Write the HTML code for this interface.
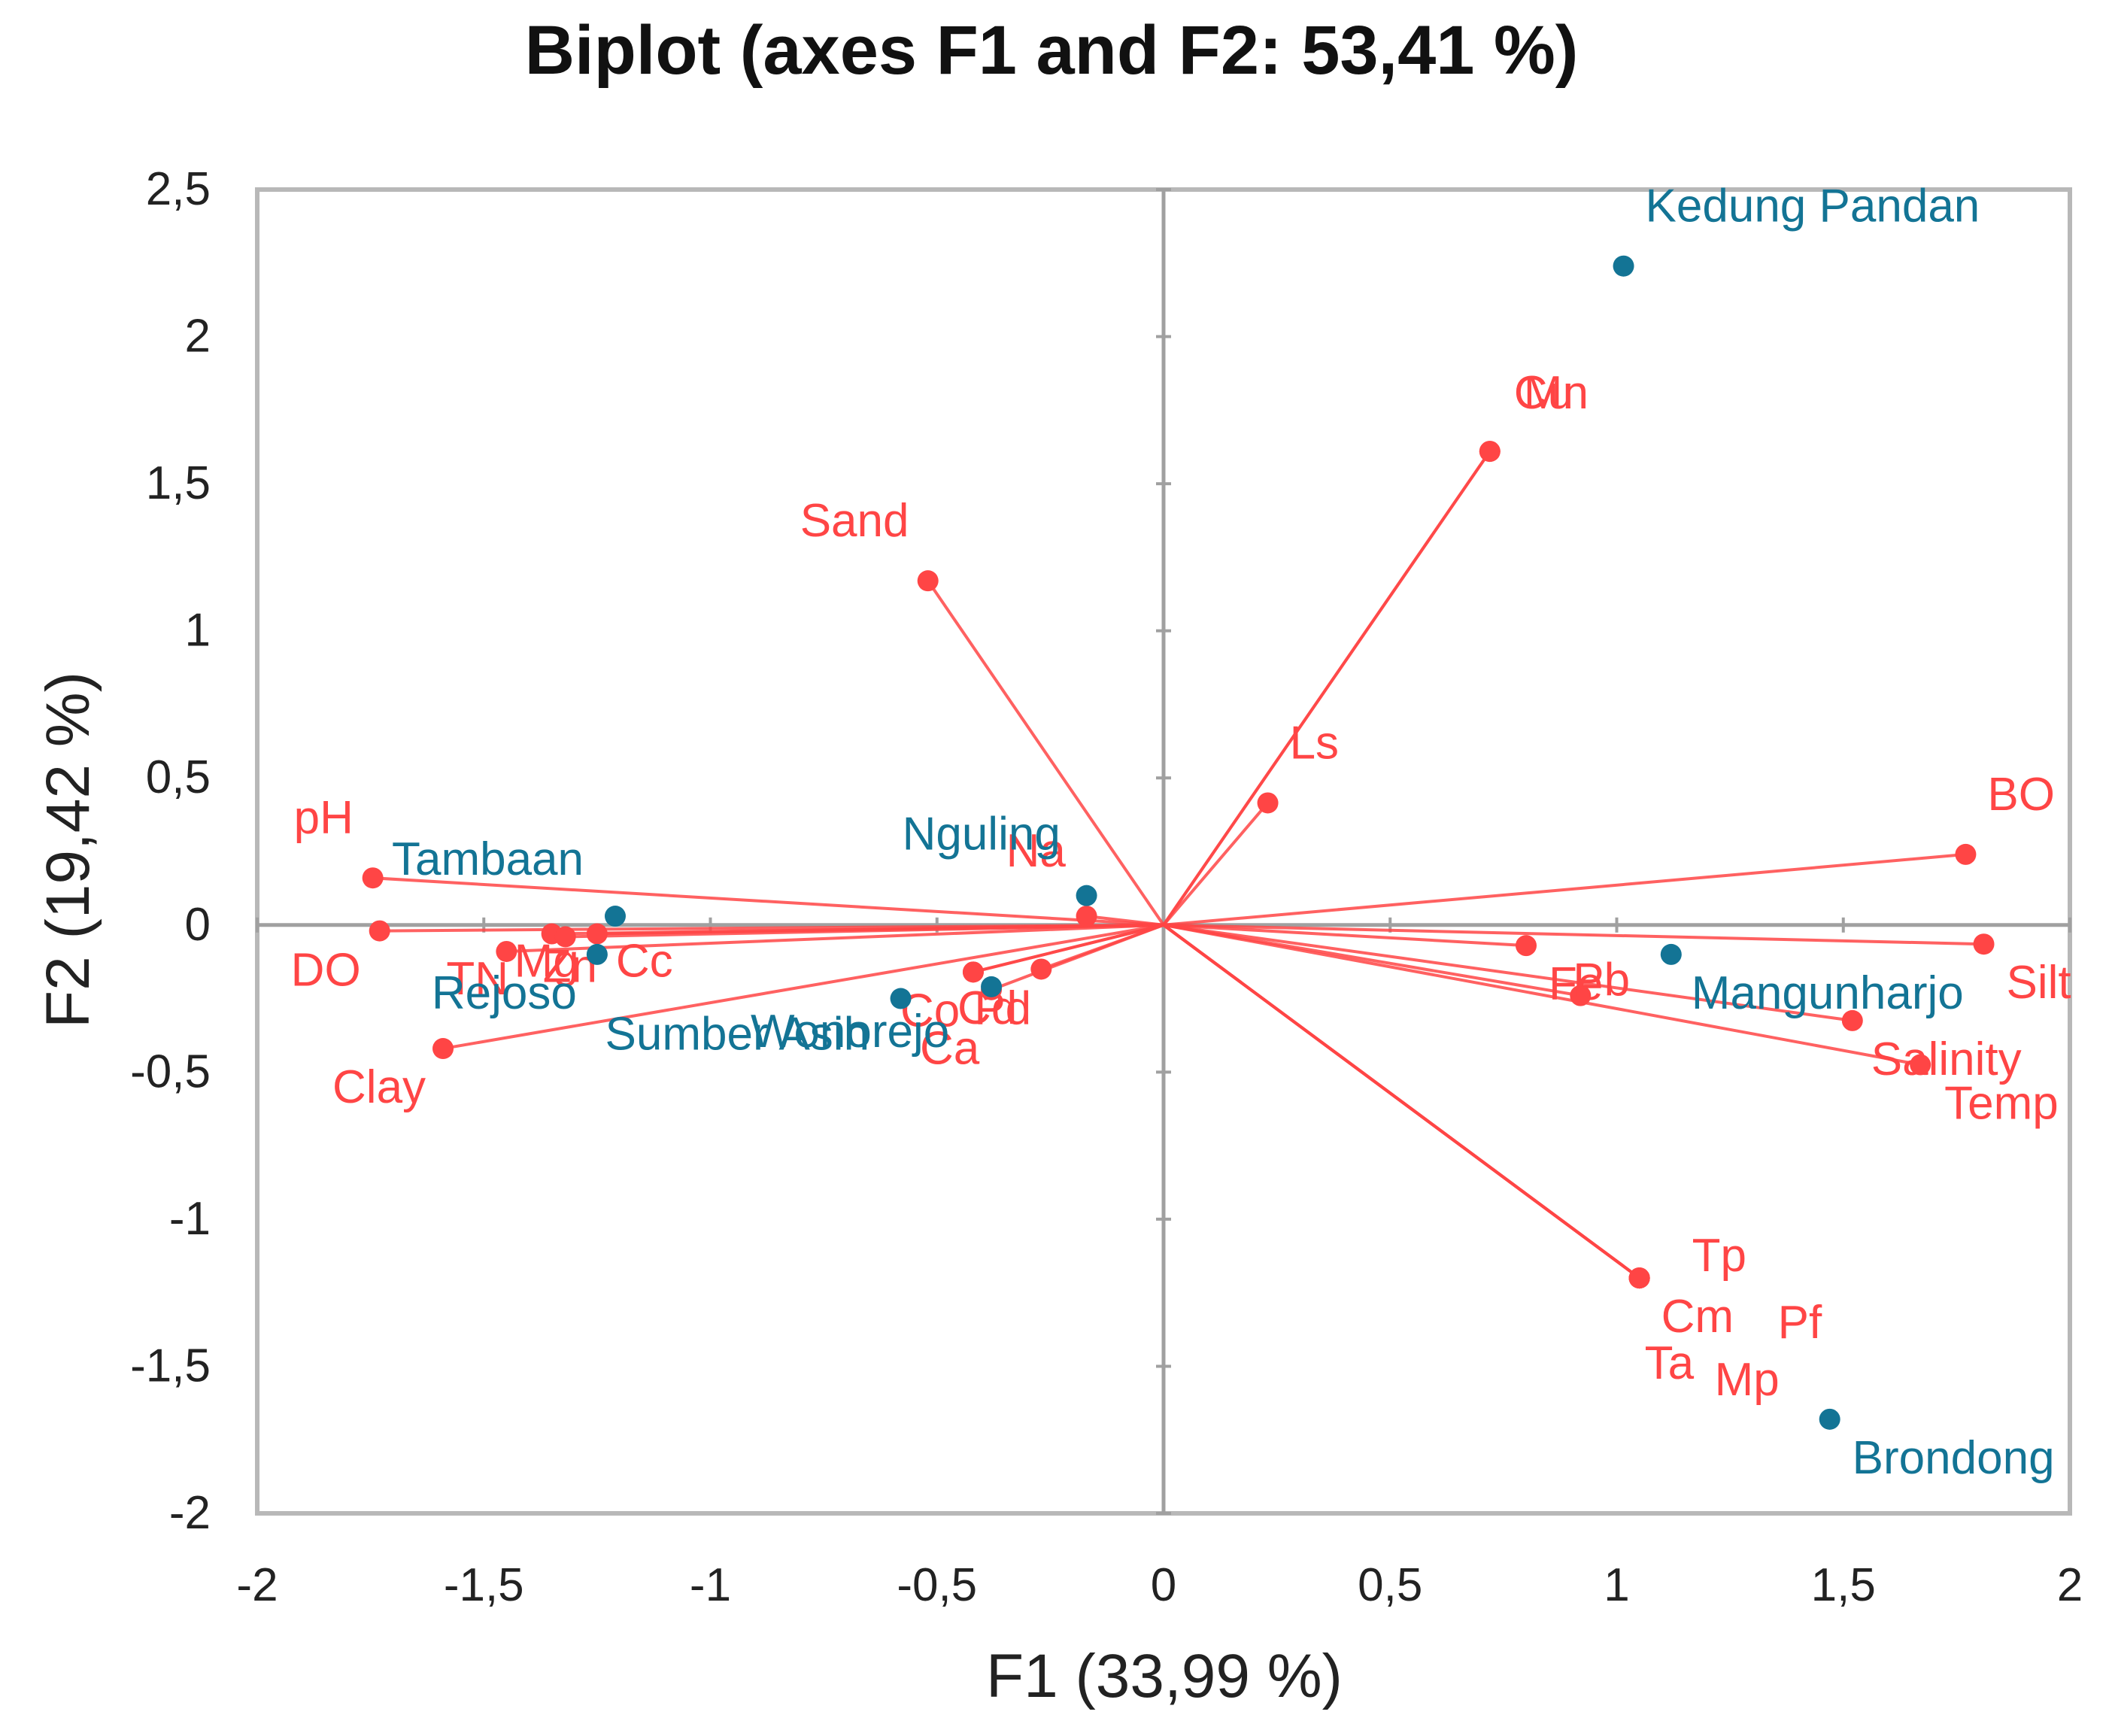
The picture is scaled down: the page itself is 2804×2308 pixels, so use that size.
<!DOCTYPE html>
<html><head><meta charset="utf-8"><style>
html,body{margin:0;padding:0;background:#fff;}
svg{display:block;font-family:"Liberation Sans",sans-serif;}
</style></head><body>
<svg id="chart" width="2804" height="2308" viewBox="0 0 2804 2308" xmlns="http://www.w3.org/2000/svg">
<text x="1398" y="98" text-anchor="middle" font-size="92" font-weight="bold" fill="#111">Biplot (axes F1 and F2: 53,41 %)</text>
<text x="1548" y="2256" text-anchor="middle" font-size="82" fill="#222">F1 (33,99 %)</text>
<text x="0" y="0" transform="translate(118,1130) rotate(-90)" text-anchor="middle" font-size="82" fill="#222">F2 (19,42 %)</text>
<g id="grid"></g>
<g id="vectors"></g>
<g id="sites"></g>
</svg>
<script>
const xTicks=[-2,-1.5,-1,-0.5,0,0.5,1,1.5,2];
const yTicks=[2.5,2,1.5,1,0.5,0,-0.5,-1,-1.5,-2];
const varNames=["pH","DO","Clay","Sand","Ls","Cu","Mn","BO","Silt","Salinity","Temp","Tp","Cm","Pf","Ta","Mp","Fe","Pb","TN","Mg","Zn","Cc","Na","Co","Cd","Pd","Ca"];
const varX=[-1.745,-1.73,-1.59,-0.52,0.23,0.72,0.72,1.77,1.81,1.52,1.67,1.05,1.05,1.05,1.05,1.05,0.80,0.92,-1.45,-1.35,-1.32,-1.25,-0.17,-0.42,-0.38,-0.27,-0.42];
const varY=[0.16,-0.02,-0.42,1.17,0.415,1.61,1.61,0.24,-0.065,-0.325,-0.475,-1.20,-1.20,-1.20,-1.20,-1.20,-0.07,-0.24,-0.09,-0.03,-0.04,-0.03,0.03,-0.16,-0.22,-0.15,-0.16];
const varLabelOff=[[-105,-59],[-118,73],[-147,72],[-170,-59],[29,-59],[32,-57],[45,-57],[29,-59],[30,72],[25,72],[32,72],[70,-9],[29,72],[184,80],[7,134],[100,156],[30,72],[-10,0],[-80,57],[-50,57],[-30,60],[25,57],[-107,-66],[-97,72],[-45,45],[-89,73],[-71,122]];
const siteNames=["Kedung Pandan","Nguling","Tambaan","Rejoso","Sumber Asih","Wonorejo","Mangunharjo","Brondong"];
const siteX=[1.015,-0.17,-1.21,-1.25,-0.58,-0.38,1.12,1.47];
const siteY=[2.24,0.10,0.03,-0.10,-0.25,-0.21,-0.10,-1.68];
const siteLabelOff=[[29,-59],[-245,-61],[-297,-55],[-220,72],[-393,68],[-320,80],[27,72],[30,72]];

const L=342,R=2752,T=252,B=2012;
const sx=v=>L+(v+2)/4*(R-L);
const sy=v=>T+(2.5-v)/4.5*(B-T);
const NS="http://www.w3.org/2000/svg";
function mk(tag,attrs,parent,text){const e=document.createElementNS(NS,tag);for(const k in attrs)e.setAttribute(k,attrs[k]);if(text!==undefined)e.textContent=text;parent.appendChild(e);return e;}
const grid=document.getElementById('grid'),vec=document.getElementById('vectors'),sit=document.getElementById('sites');
let e;
e=mk('rect',{x:L,y:T,width:R-L,height:B-T,fill:'none',stroke:'#b8b8b8','stroke-width':6},grid);


e=mk('line',{x1:sx(0),x2:sx(0),y1:T,y2:B,stroke:'#a0a0a0','stroke-width':5},grid);


e=mk('line',{x1:L,x2:R,y1:sy(0),y2:sy(0),stroke:'#a0a0a0','stroke-width':5},grid);


const fmt=v=>String(v).replace('.',',');
xTicks.forEach(v=>{
  e=mk('text',{x:sx(v),y:2128,'text-anchor':'middle','font-size':62,fill:'#222'},grid,fmt(v));
  
  
  e=mk('line',{x1:sx(v),x2:sx(v),y1:sy(0)-10,y2:sy(0)+10,stroke:'#a0a0a0','stroke-width':4},grid);
  
  
});
yTicks.forEach(v=>{
  e=mk('text',{x:280,y:sy(v)+20,'text-anchor':'end','font-size':62,fill:'#222'},grid,fmt(v));
  
  
  e=mk('line',{x1:sx(0)-10,x2:sx(0)+10,y1:sy(v),y2:sy(v),stroke:'#a0a0a0','stroke-width':4},grid);
  
  
});
const RED='#ff4545',BLUE='#137495';
varNames.forEach((n,i)=>{
  const x=sx(varX[i]),y=sy(varY[i]);
  e=mk('line',{x1:sx(0),y1:sy(0),x2:x,y2:y,stroke:RED,'stroke-width':4,'stroke-opacity':0.85},vec);
  
  
  e=mk('circle',{cx:x,cy:y,r:14,fill:RED},vec);
  
  
  e=mk('text',{x:x+varLabelOff[i][0],y:y+varLabelOff[i][1],'font-size':62,fill:RED},vec,n);
  
  
});
siteNames.forEach((n,i)=>{
  const x=sx(siteX[i]),y=sy(siteY[i]);
  e=mk('circle',{cx:x,cy:y,r:14,fill:BLUE},sit);
  
  
  e=mk('text',{x:x+siteLabelOff[i][0],y:y+siteLabelOff[i][1],'font-size':62,fill:BLUE},sit,n);
  
  
});
</script>
</body></html>
